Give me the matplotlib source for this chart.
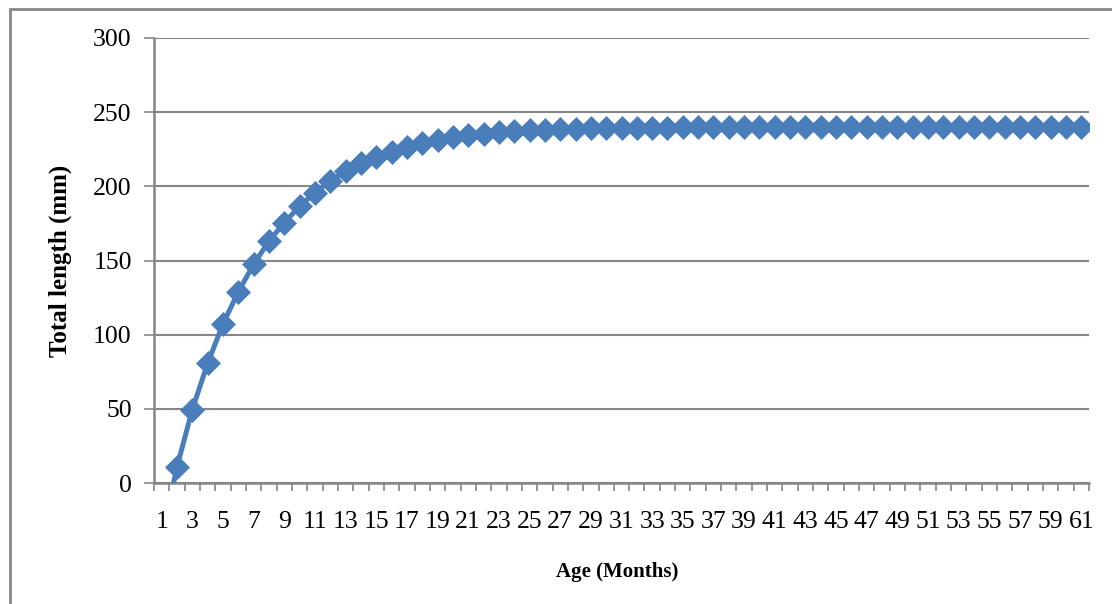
# Growth curve - total length by age
import matplotlib.pyplot as plt
from matplotlib.patches import Rectangle

# age in months (categories 1..61)
age = list(range(1, 62))

# total length (mm) per month
length = [-38, 10.9, 49.5, 80.7, 107.2, 128.9, 147.4, 163.1, 175.4, 186.6,
          195.8, 203.4, 210.4, 216.0, 219.6, 223.0, 226.2, 229.0, 231.3, 233.0,
          234.5, 235.6, 236.4, 237.1, 237.8, 238.3, 238.6, 238.9, 239.1, 239.3,
          239.4, 239.5, 239.6, 239.6, 239.7, 239.7, 239.8, 239.8, 239.8, 239.9,
          239.9, 239.9, 239.9, 239.9, 239.9, 240.0, 240.0, 240.0, 240.0, 240.0,
          240.0, 240.0, 240.0, 240.0, 240.0, 240.0, 240.0, 240.0, 240.0, 240.0,
          240.0]

y_ticks = [0, 50, 100, 150, 200, 250, 300]

plt.rcParams['font.family'] = ['Liberation Serif', 'DejaVu Serif']

grey = '#868686'
blue = '#4a7ebb'

fig = plt.figure(figsize=(11.12, 6.04), dpi=100)
ax = fig.add_axes([154 / 1112, 1 - 483 / 604, (1089 - 154) / 1112, (483 - 38) / 604])

# outer chart border
fig.patches.append(Rectangle((10 / 1112, -0.05), 1.2, 1 - 9 / 604 + 0.05,
                             transform=fig.transFigure, fill=False,
                             edgecolor=grey, linewidth=2))

# categories are placed at 0..60, like a category axis
pos = list(range(len(age)))
ax.plot(pos, length, color=blue, linewidth=3.6, marker='D', markersize=11.8,
        markeredgewidth=0.5, markeredgecolor=blue, markerfacecolor=blue,
        clip_on=True, zorder=3)

ax.set_xlim(-0.5, len(age) - 0.5)
ax.set_ylim(0, 300)

ax.set_yticks(y_ticks)
ax.yaxis.grid(True, color=grey, linewidth=1.5)
ax.set_axisbelow(True)

# tick marks between categories, labels on every other category
ax.set_xticks([p - 0.5 for p in pos] + [len(age) - 0.5])
ax.set_xticklabels([])
ax.set_xticks(pos[::2], minor=True)
ax.set_xticklabels([str(a) for a in age[::2]], minor=True)
ax.tick_params(axis='x', which='minor', length=0, pad=20, labelsize=18.5)
ax.tick_params(axis='x', which='major', length=6, width=1.2, color=grey)
ax.tick_params(axis='y', length=7, width=1.2, color=grey, pad=9, labelsize=18.5)

for s in ['top', 'right']:
    ax.spines[s].set_visible(False)
for s in ['left', 'bottom']:
    ax.spines[s].set_color(grey)
    ax.spines[s].set_linewidth(1.8)

fig.text(60 / 1112, 1 - 261 / 604, 'Total length (mm)', rotation=90,
         ha='center', va='center', fontsize=18, fontweight='bold')
fig.text(617 / 1112, 1 - 572 / 604, 'Age (Months)', ha='center', va='center',
         fontsize=15, fontweight='bold')

plt.savefig('out.png', dpi=100)
